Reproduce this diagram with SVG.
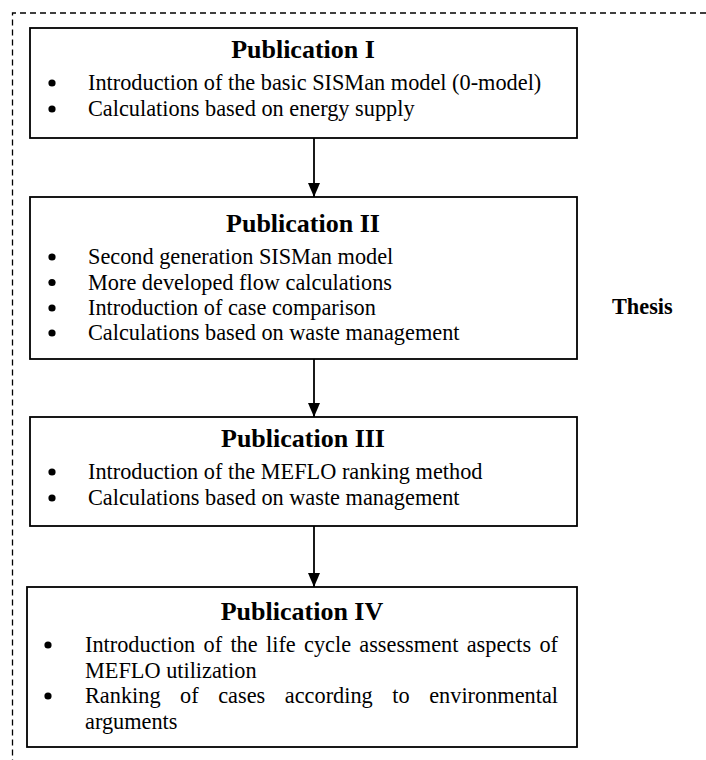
<svg xmlns="http://www.w3.org/2000/svg" width="706" height="760" viewBox="0 0 706 760">
  <style>
    .frame { fill: none; stroke: #000; stroke-width: 1.3; stroke-dasharray: 6 4; }
    .box { fill: #fff; stroke: #000; stroke-width: 1.8; }
    .title { font-family: "Liberation Serif", "Times New Roman", serif; font-weight: bold; font-size: 26px; text-anchor: middle; fill: #000; }
    .body { font-family: "Liberation Serif", "Times New Roman", serif; font-size: 22.3px; fill: #000; }
    .label { font-family: "Liberation Serif", "Times New Roman", serif; font-weight: bold; font-size: 22.3px; fill: #000; }
    .dot { fill: #000; }
    .link { stroke: #000; stroke-width: 1.8; fill: none; marker-end: url(#head); }
  </style>
  <defs>
    <marker id="head" markerUnits="userSpaceOnUse" markerWidth="14" markerHeight="12" refX="14" refY="6" orient="auto">
      <path d="M0,0 L14,6 L0,12 z" fill="#000"/>
    </marker>
  </defs>

  <rect width="706" height="760" fill="#fff"/>

  <!-- dashed thesis frame, open to the right and bottom -->
  <path class="frame" d="M706,13 H12.5 V760"/>

  <text class="label" x="612" y="314">Thesis</text>

  <g id="connectors">
    <line class="link" x1="314" y1="138" x2="314" y2="197"/>
    <line class="link" x1="314" y1="359" x2="314" y2="417"/>
    <line class="link" x1="314" y1="526" x2="314" y2="587"/>
  </g>

  <g id="pub1">
    <rect class="box" x="30" y="28" width="547" height="110"/>
    <text class="title" x="303" y="58">Publication I</text>
    <circle class="dot" cx="52" cy="83" r="3.6"/>
    <text class="body" x="88" y="90">Introduction of the basic SISMan model (0-model)</text>
    <circle class="dot" cx="52" cy="109" r="3.6"/>
    <text class="body" x="88" y="116">Calculations based on energy supply</text>
  </g>

  <g id="pub2">
    <rect class="box" x="30" y="197" width="547" height="162"/>
    <text class="title" x="303" y="232">Publication II</text>
    <circle class="dot" cx="52" cy="257" r="3.6"/>
    <text class="body" x="88" y="264">Second generation SISMan model</text>
    <circle class="dot" cx="52" cy="282.5" r="3.6"/>
    <text class="body" x="88" y="289.5">More developed flow calculations</text>
    <circle class="dot" cx="52" cy="308" r="3.6"/>
    <text class="body" x="88" y="315">Introduction of case comparison</text>
    <circle class="dot" cx="52" cy="333" r="3.6"/>
    <text class="body" x="88" y="340">Calculations based on waste management</text>
  </g>

  <g id="pub3">
    <rect class="box" x="30" y="417" width="547" height="109"/>
    <text class="title" x="303" y="447">Publication III</text>
    <circle class="dot" cx="52" cy="472" r="3.6"/>
    <text class="body" x="88" y="479">Introduction of the MEFLO ranking method</text>
    <circle class="dot" cx="52" cy="498" r="3.6"/>
    <text class="body" x="88" y="505">Calculations based on waste management</text>
  </g>

  <g id="pub4">
    <rect class="box" x="27" y="587" width="550" height="160"/>
    <text class="title" x="302" y="620">Publication IV</text>
    <circle class="dot" cx="48" cy="645" r="3.6"/>
    <!-- justified line: words placed one by one -->
    <text class="body" y="652">
      <tspan x="85">Introduction</tspan>
      <tspan x="203.5">of</tspan>
      <tspan x="230.4">the</tspan>
      <tspan x="266">life</tspan>
      <tspan x="304">cycle</tspan>
      <tspan x="359.3">assessment</tspan>
      <tspan x="466.7">aspects</tspan>
      <tspan x="539.4">of</tspan>
    </text>
    <text class="body" x="85" y="677.5">MEFLO utilization</text>
    <circle class="dot" cx="48" cy="696" r="3.6"/>
    <text class="body" y="703">
      <tspan x="85">Ranking</tspan>
      <tspan x="180.1">of</tspan>
      <tspan x="218.2">cases</tspan>
      <tspan x="284.8">according</tspan>
      <tspan x="392.3">to</tspan>
      <tspan x="429.2">environmental</tspan>
    </text>
    <text class="body" x="85" y="728.5">arguments</text>
  </g>
</svg>
